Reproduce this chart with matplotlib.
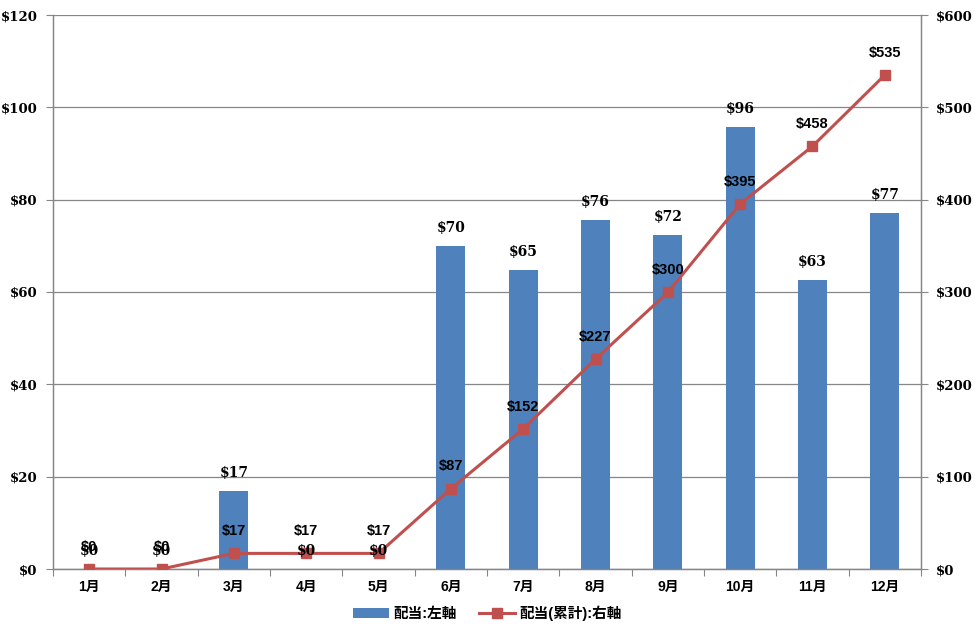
import matplotlib
matplotlib.use('Agg')
import matplotlib.pyplot as plt
import numpy as np

# データ
months = ['1月', '2月', '3月', '4月', '5月', '6月', '7月', '8月', '9月', '10月', '11月', '12月']
dividend = [0, 0, 16.9, 0, 0, 70.0, 64.8, 75.6, 72.3, 95.7, 62.6, 77.1]
dividend_cum = [0, 0, 16.9, 16.9, 16.9, 86.9, 151.7, 227.3, 299.6, 395.3, 457.9, 535.0]
left_ticks = [0, 20, 40, 60, 80, 100, 120]
right_ticks = [0, 100, 200, 300, 400, 500, 600]

bar_color = '#4F81BD'
line_color = '#C0504D'
grid_color = '#868686'
cjk = ['Liberation Sans', 'Noto Sans CJK JP']
serif = 'DejaVu Serif'

fig = plt.figure(figsize=(9.75, 6.36), dpi=100)
ax = fig.add_axes([53 / 975, 67 / 636, 868 / 975, 554 / 636])
ax2 = ax.twinx()

x = np.arange(len(months))

# 棒グラフ（左軸）
ax.bar(x, dividend, width=0.4, color=bar_color, zorder=2, label='配当:左軸')
ax.set_ylim(0, 120)
ax.set_xlim(-0.5, len(months) - 0.5)
ax.set_yticks(left_ticks)
ax.set_yticklabels(['$%d' % v for v in left_ticks], fontfamily=serif,
                   fontweight='bold', fontsize=9.5)
ax.yaxis.grid(True, color=grid_color, linewidth=0.9, zorder=0)
ax.set_axisbelow(True)

# x軸：目盛りはカテゴリの境界
ax.set_xticks(np.arange(-0.5, len(months), 1.0))
ax.set_xticklabels([])
ax.set_xticks(x, minor=True)
ax.set_xticklabels(months, minor=True, fontfamily=cjk, fontweight='bold', fontsize=10)
ax.tick_params(axis='x', which='minor', length=0, pad=8)
ax.tick_params(axis='x', which='major', length=5, color=grid_color)
ax.tick_params(axis='y', length=5, color=grid_color, pad=6)

# 折れ線（右軸）
ax2.plot(x, dividend_cum, color=line_color, linewidth=2.2, marker='s', markersize=7,
         zorder=3, label='配当(累計):右軸')
ax2.set_ylim(0, 600)
ax2.set_yticks(right_ticks)
ax2.set_yticklabels(['$%d' % v for v in right_ticks], fontfamily=serif,
                    fontweight='bold', fontsize=9.5)
ax2.tick_params(axis='y', length=5, color=grid_color, pad=6)

# 棒のラベル（折れ線より手前に描く）
for v, xi in zip(dividend, x):
    ax2.annotate('$%d' % round(v), (xi, v), xycoords=ax.transData, xytext=(0, 8),
                 textcoords='offset points', ha='center', va='bottom', fontfamily=serif,
                 fontweight='bold', fontsize=10, zorder=5)

for v, xi in zip(dividend_cum, x):
    ax2.annotate('$%d' % round(v), (xi, v), xytext=(0, 11), textcoords='offset points',
                 ha='center', va='bottom', fontfamily='Liberation Sans', fontweight='bold',
                 fontsize=10.5, zorder=5)

for a in (ax, ax2):
    a.spines['top'].set_visible(False)
    for s in ('left', 'right', 'bottom'):
        a.spines[s].set_color(grid_color)
        a.spines[s].set_linewidth(0.9)

# 凡例
h1, l1 = ax.get_legend_handles_labels()
h2, l2 = ax2.get_legend_handles_labels()
fig.legend(h1 + h2, l1 + l2, loc='center', bbox_to_anchor=(0.5, 23 / 636), ncol=2,
           frameon=False, prop={'family': cjk, 'weight': 'bold', 'size': 10.5},
           handlelength=2.5, columnspacing=1.5, handletextpad=0.3)

plt.savefig('out.png', dpi=100)
plt.close()
